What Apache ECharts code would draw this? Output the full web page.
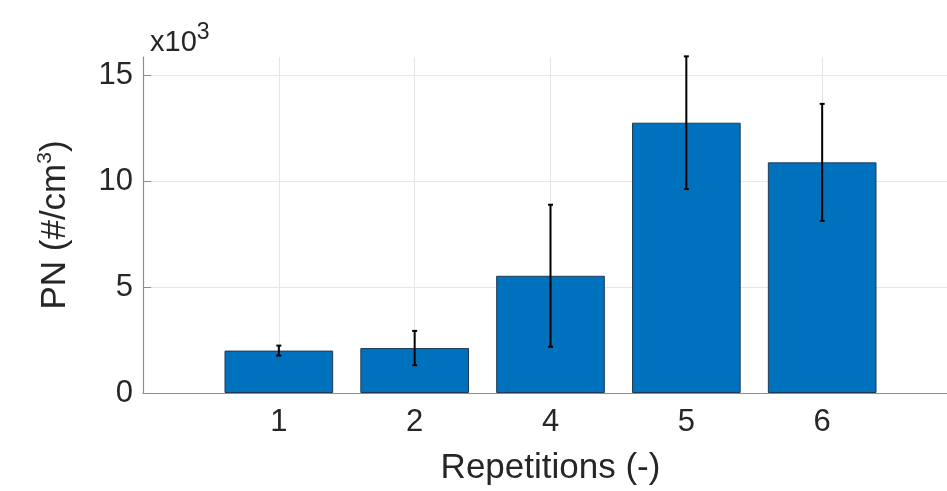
<!DOCTYPE html>
<html>
<head>
<meta charset="utf-8">
<script src="https://cdn.jsdelivr.net/npm/echarts@6/dist/echarts.min.js"></script>
<style>
  html, body { margin: 0; padding: 0; background: #fff; }
  #chart { width: 947px; height: 491px; }
</style>
</head>
<body>
<div id="chart"></div>
<script>
// Repetition groups (empty slots pad the axis to 0..6)
const categories = ['', '1', '2', '4', '5', '6', ''];
// Mean particle number per group (#/cm^3)
const means = [null, 2000, 2120, 5530, 12750, 10880, null];
// Standard deviation per group (#/cm^3)
const errors = [null, 235, 810, 3350, 3130, 2760, null];
// Y tick positions (labels shown in units of 10^3)
const yTicks = [0, 5000, 10000, 15000];

const textColor = '#262626';
const axisColor = '#8c8c8c';
const gridColor = '#e6e6e6';
const font = 'Liberation Sans, Arial, Helvetica, sans-serif';

const errData = [];
means.forEach((m, i) => {
  if (m != null) errData.push([i, m - errors[i], m + errors[i]]);
});

const chart = echarts.init(document.getElementById('chart'), null, { renderer: 'canvas' });
chart.setOption({
  animation: false,
  textStyle: { fontFamily: font, color: textColor },
  // the plot area runs past the right edge of the canvas
  grid: { left: 143, width: 815, top: 57, bottom: 98, containLabel: false, outerBoundsMode: 'none' },
  graphic: [{
    type: 'text',
    x: 150, y: 57,
    style: {
      text: '{a|x10}{s|3}',
      verticalAlign: 'bottom',
      rich: {
        a: { fontSize: 29, fontFamily: font, fill: textColor, verticalAlign: 'bottom' },
        s: { fontSize: 23, fontFamily: font, fill: textColor, verticalAlign: 'bottom', padding: [0, 0, 13, 0] }
      }
    }
  }],
  xAxis: {
    type: 'category',
    data: categories,
    boundaryGap: false,
    name: 'Repetitions (-)',
    nameLocation: 'middle',
    nameGap: 58,
    nameTextStyle: { fontSize: 35, color: textColor, fontFamily: font },
    axisLine: { show: true, lineStyle: { color: axisColor, width: 1.2 } },
    axisTick: { show: true, inside: true, length: 7, alignWithLabel: true, lineStyle: { color: axisColor } },
    axisLabel: { fontSize: 31, color: textColor, margin: 14, interval: 0 },
    splitLine: { show: true, lineStyle: { color: gridColor, width: 1 } }
  },
  yAxis: {
    type: 'value',
    min: 0,
    max: 15850,
    interval: 5000,
    name: '{a|PN (#/cm}{s|3}{a|)}',
    nameLocation: 'middle',
    nameGap: 70,
    nameRotate: 90,
    nameTextStyle: {
      color: textColor,
      rich: {
        a: { fontSize: 35, fontFamily: font, color: textColor, verticalAlign: 'bottom' },
        s: { fontSize: 21, fontFamily: font, color: textColor, verticalAlign: 'bottom', padding: [0, 0, 17, 0] }
      }
    },
    axisLine: { show: true, lineStyle: { color: axisColor, width: 1.2 } },
    axisTick: { show: true, inside: true, length: 8, customValues: yTicks, lineStyle: { color: axisColor } },
    axisLabel: {
      fontSize: 31, color: textColor, margin: 10,
      customValues: yTicks,
      formatter: v => String(v / 1000)
    },
    splitLine: { show: true, lineStyle: { color: gridColor, width: 1 } }
  },
  series: [
    {
      type: 'bar',
      data: means,
      barWidth: '80%',
      itemStyle: { color: '#0072BD', borderColor: '#1f3b57', borderWidth: 1 }
    },
    {
      type: 'custom',
      data: errData,
      z: 10,
      renderItem: (params, api) => {
        const x = api.value(0);
        const lo = api.coord([x, api.value(1)]);
        const hi = api.coord([x, api.value(2)]);
        const cap = 2.5;
        const style = { stroke: '#000', lineWidth: 2 };
        return {
          type: 'group',
          children: [
            { type: 'line', shape: { x1: hi[0], y1: hi[1], x2: lo[0], y2: lo[1] }, style },
            { type: 'line', shape: { x1: hi[0] - cap, y1: hi[1], x2: hi[0] + cap, y2: hi[1] }, style },
            { type: 'line', shape: { x1: lo[0] - cap, y1: lo[1], x2: lo[0] + cap, y2: lo[1] }, style }
          ]
        };
      }
    }
  ]
});
</script>
</body>
</html>
